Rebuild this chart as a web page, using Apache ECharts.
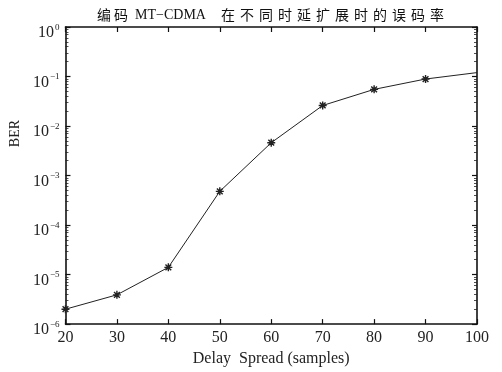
<!DOCTYPE html>
<html><head><meta charset="utf-8">
<script src="https://cdn.jsdelivr.net/npm/echarts@6/dist/echarts.min.js"></script>
<style>html,body{margin:0;padding:0;background:#fff}#c{width:502px;height:372px}</style>
</head><body><div id="c"></div>
<script>
const titlePrefix = '编码';
const titleCode = 'MT−CDMA';
const titleSuffix = '在不同时延扩展时的误码率';
const xValues = [20, 30, 40, 50, 60, 70, 80, 90, 100];
const berValues = [2.0e-6, 3.9e-6, 1.4e-5, 4.8e-4, 4.6e-3, 0.026, 0.055, 0.089, 0.12];
const xLabel = 'Delay  Spread (samples)';
const yLabel = 'BER';

const serif = '"Liberation Serif", "DejaVu Serif", serif';
const cjk = '"Noto Sans CJK SC", sans-serif';
const star = 'path://M0,-5L0,5M-5,0L5,0M-3.6,-3.6L3.6,3.6M-3.6,3.6L3.6,-3.6';

const titleRich =
  titlePrefix.split('').map(c => '{p|' + c + '}').join('') +
  '{m|' + titleCode + '}' +
  titleSuffix.split('').map(c => '{c|' + c + '}').join('');

const data = xValues.map((x, i) => {
  const p = { value: [x, berValues[i]] };
  if (i === xValues.length - 1) p.symbol = 'none';
  return p;
});

const chart = echarts.init(document.getElementById('c'), null, { renderer: 'canvas' });
const lineStyleAxis = { color: '#111', width: 1.6 };
chart.setOption({
  animation: false,
  backgroundColor: '#fff',
  title: {
    text: titleRich, left: 268, textAlign: 'center', top: 3,
    textStyle: {
      fontWeight: 'normal',
      rich: {
        p: { fontFamily: cjk, fontSize: 14, fontWeight: 'normal', color: '#111', padding: [0, 3, 0, 0] },
        c: { fontFamily: cjk, fontSize: 14, fontWeight: 'normal', color: '#111', padding: [0, 5, 0, 0] },
        m: { fontFamily: serif, fontSize: 14, fontWeight: 'normal', color: '#111', padding: [0, 15, 0, 4] }
      }
    }
  },
  grid: { left: 65, right: 25, top: 27, bottom: 47, show: false },
  xAxis: [{
    type: 'value', min: 20, max: 100, interval: 10, position: 'bottom',
    name: xLabel, nameLocation: 'middle', nameGap: 25,
    nameTextStyle: { fontFamily: serif, fontSize: 16, color: '#222' },
    axisLine: { show: true, onZero: false, lineStyle: lineStyleAxis },
    axisTick: { show: true, inside: true, length: 5, lineStyle: { color: '#111', width: 1.2 } },
    axisLabel: { fontFamily: serif, fontSize: 16, color: '#222', margin: 6 },
    splitLine: { show: false }
  }, {
    type: 'value', min: 20, max: 100, interval: 10, position: 'top',
    axisLine: { show: true, onZero: false, lineStyle: lineStyleAxis },
    axisTick: { show: true, inside: true, length: 5, lineStyle: { color: '#111', width: 1.2 } },
    axisLabel: { show: false }, splitLine: { show: false }
  }],
  yAxis: [{
    type: 'log', logBase: 10, min: 1e-6, max: 1, position: 'left',
    name: yLabel, nameLocation: 'middle', nameGap: 42, nameRotate: 90,
    nameTextStyle: { fontFamily: serif, fontSize: 14, color: '#222', padding: [0, 0, 0, 84] },
    axisLine: { show: true, onZero: false, lineStyle: lineStyleAxis },
    axisTick: { show: true, inside: true, length: 5, lineStyle: { color: '#111', width: 1.2 } },
    minorTick: { show: true, splitNumber: 9, length: 3, lineStyle: { color: '#222', width: 0.8 } },
    axisLabel: {
      margin: 6,
      padding: [10, 0, 0, 0],
      formatter: v => '{b|10}{s|' + String(Math.round(Math.log10(v))).replace('-', '−') + '}',
      rich: {
        b: { fontFamily: serif, fontSize: 16, color: '#222', lineHeight: 18, verticalAlign: 'bottom' },
        s: { fontFamily: serif, fontSize: 9, color: '#222', lineHeight: 9, verticalAlign: 'top', padding: [0, 0, 0, 1] }
      }
    },
    splitLine: { show: false }
  }, {
    type: 'log', logBase: 10, min: 1e-6, max: 1, position: 'right',
    axisLine: { show: true, onZero: false, lineStyle: lineStyleAxis },
    axisTick: { show: true, inside: true, length: 5, lineStyle: { color: '#111', width: 1.2 } },
    minorTick: { show: true, splitNumber: 9, length: 3, lineStyle: { color: '#222', width: 0.8 } },
    axisLabel: { show: false }, splitLine: { show: false }
  }],
  series: [{
    type: 'line', xAxisIndex: 0, yAxisIndex: 0, data: data,
    symbol: star, symbolSize: 8, showAllSymbol: true,
    lineStyle: { color: '#222', width: 1 },
    itemStyle: { color: '#222', borderColor: '#222', borderWidth: 1.4 }
  }]
});
</script></body></html>
